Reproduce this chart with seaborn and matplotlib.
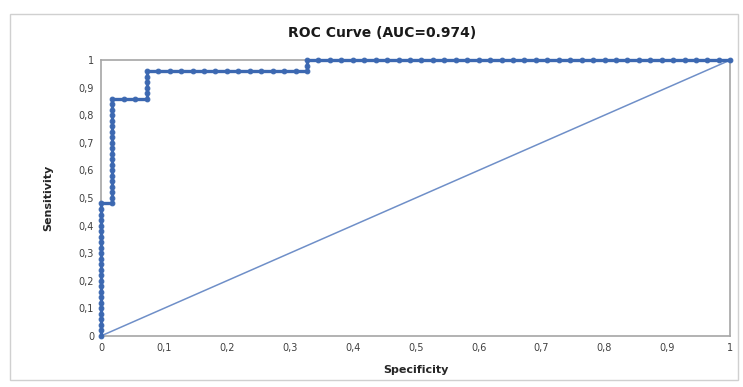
import matplotlib.pyplot as plt
import matplotlib.patches as patches
import numpy as np
import pandas as pd
import seaborn as sns

# ROC points: false positives (of 55 negatives), true positives (of 50 positives)
fp_counts = [0, 0, 0, 0, 0, 0, 0, 0, 0, 0, 0, 0, 0, 0, 0, 0, 0, 0, 0, 0, 0, 0, 0, 0, 0,
             1, 1, 1, 1, 1, 1, 1, 1, 1, 1, 1, 1, 1, 1, 1, 1, 1, 1, 1, 1,
             2, 3, 4,
             4, 4, 4, 4, 4,
             5, 6, 7, 8, 9, 10, 11, 12, 13, 14, 15, 16, 17, 18,
             18, 18,
             19, 20, 21, 22, 23, 24, 25, 26, 27, 28, 29, 30, 31, 32, 33, 34, 35, 36, 37,
             38, 39, 40, 41, 42, 43, 44, 45, 46, 47, 48, 49, 50, 51, 52, 53, 54, 55]
tp_counts = [0, 1, 2, 3, 4, 5, 6, 7, 8, 9, 10, 11, 12, 13, 14, 15, 16, 17, 18, 19, 20, 21, 22, 23, 24,
             24, 25, 26, 27, 28, 29, 30, 31, 32, 33, 34, 35, 36, 37, 38, 39, 40, 41, 42, 43,
             43, 43, 43,
             44, 45, 46, 47, 48,
             48, 48, 48, 48, 48, 48, 48, 48, 48, 48, 48, 48, 48, 48,
             49, 50,
             50, 50, 50, 50, 50, 50, 50, 50, 50, 50, 50, 50, 50, 50, 50, 50, 50, 50, 50,
             50, 50, 50, 50, 50, 50, 50, 50, 50, 50, 50, 50, 50, 50, 50, 50, 50, 50]
n_neg = 55
n_pos = 50
ticks = [0, 0.1, 0.2, 0.3, 0.4, 0.5, 0.6, 0.7, 0.8, 0.9, 1]

df = pd.DataFrame({
    'Specificity': np.array(fp_counts) / n_neg,
    'Sensitivity': np.array(tp_counts) / n_pos,
})

sns.set_style('white')
plt.rcParams['font.family'] = ['DejaVu Sans']

fig = plt.figure(figsize=(7.43, 3.87), dpi=100)
ax = fig.add_axes([0.136, 0.132, 0.847, 0.713])

# outer chart frame
fig.patches.append(patches.Rectangle((0.013, 0.018), 0.98, 0.947, transform=fig.transFigure,
                                     fill=False, edgecolor='#d0d0d0', linewidth=1))

ax.plot([0, 1], [0, 1], color='#6f8fc8', linewidth=1.1)
sns.lineplot(data=df, x='Specificity', y='Sensitivity', sort=False, estimator=None,
             color='#3c68b1', linewidth=2.4, marker='o', markersize=3.4,
             markeredgecolor='#3c68b1', ax=ax, clip_on=False, zorder=5)

ax.set_xlim(0, 1)
ax.set_ylim(0, 1)
ax.set_xticks(ticks)
ax.set_yticks(ticks)
fmt = lambda v: ('%g' % v).replace('.', ',')
ax.set_xticklabels([fmt(t) for t in ticks])
ax.set_yticklabels([fmt(t) for t in ticks])
ax.tick_params(labelsize=7, colors='#404040', length=3, direction='inout', width=0.8)
for s in ax.spines.values():
    s.set_color('#a6a6a6')
    s.set_linewidth(1.2)

fig.text(0.514, 0.915, 'ROC Curve (AUC=0.974)', fontsize=10, fontweight='bold',
         ha='center', va='center', color='#1a1a1a')
ax.set_xlabel('Specificity', fontsize=8, fontweight='bold', labelpad=9)
ax.set_ylabel('Sensitivity', fontsize=8, fontweight='bold', labelpad=18)

plt.savefig('out.png', dpi=100)
